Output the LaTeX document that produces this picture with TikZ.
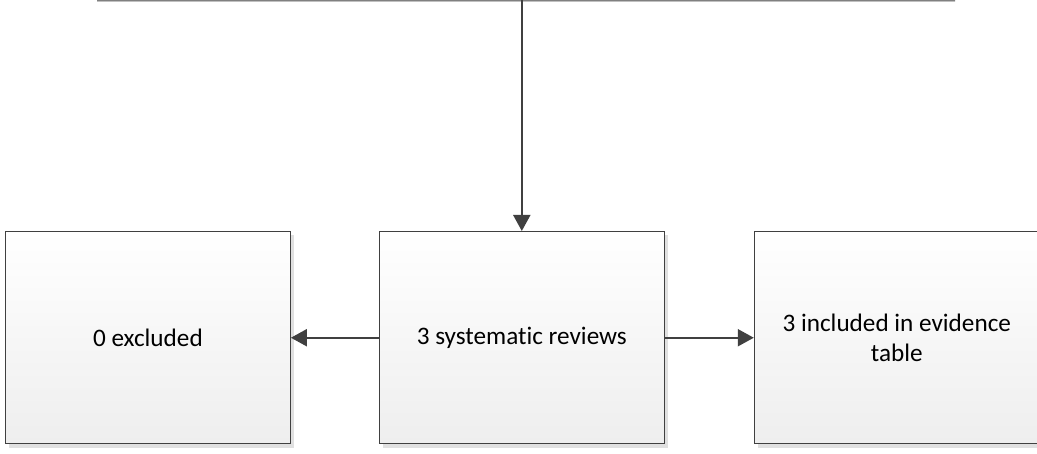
\documentclass[tikz,border=0pt]{standalone}
\usepackage{fontspec}
\setmainfont{Carlito}[Ligatures=NoCommon]
\usetikzlibrary{arrows.meta,shadows}
\definecolor{edge}{HTML}{404040}
\definecolor{shade}{HTML}{E0E0E0}
\definecolor{fillbot}{HTML}{EEEEEE}
\tikzset{
  x=1pt,y=1pt,
  flowbox/.style={draw=edge, line width=1pt, top color=white, bottom color=fillbot,
    minimum width=285pt, minimum height=212.5pt, inner sep=0pt,
    font=\fontsize{25.2}{29.5}\selectfont, align=center,
    drop shadow={shadow xshift=3.5pt, shadow yshift=-4pt, fill=shade, opacity=1}},
  conn/.style={draw=edge, line width=2pt, -{Triangle[width=17pt,length=16pt]}}
}
\begin{document}
\begin{tikzpicture}
\useasboundingbox (0,0) rectangle (1037,454);
\begin{scope}
\clip (0,0) rectangle (1037,454);
\fill[shade] (97,452) rectangle (955,454);
\node[flowbox] (excl) at (147.9,116.25) {0 excluded};
\node[flowbox] (sr) at (521.8,116.25) {3 systematic reviews};
\node[flowbox] (incl) at (896.8,116.25) {3 included in evidence\\table};
\coordinate (top) at (521.8,455);
\draw[conn] (top) -- (sr.north);
\draw[conn] (sr.west) -- (excl.east);
\draw[conn] (sr.east) -- (incl.west);
\end{scope}
\end{tikzpicture}
\end{document}
